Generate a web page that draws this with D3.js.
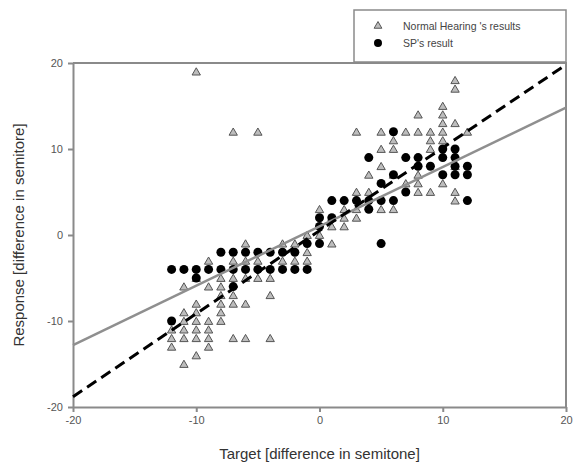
<!DOCTYPE html>
<html>
<head>
  <meta charset="utf-8">
  <script src="https://d3js.org/d3.v7.min.js"></script>
  <style>
  body { margin: 0; background: #fff; }
  .axis text { font-family: "Liberation Sans", Arial, sans-serif; font-size: 11px; fill: #555; }
  .axis path, .axis line { stroke: #8a8a8a; stroke-width: 2px; }
  .title { font-family: "Liberation Sans", Arial, sans-serif; font-size: 15px; fill: #333; }
  .legend text { font-family: "Liberation Sans", Arial, sans-serif; font-size: 10.5px; fill: #444; }
  </style>
</head>
<body>
<script>
// Normal hearing listeners: [target, response]
var nhResults = [
  [-10,19], [-7,12], [-5,12],
  [-12,-11], [-12,-12], [-12,-13],
  [-11,-6], [-11,-9], [-11,-10], [-11,-11], [-11,-12], [-11,-15],
  [-10,-5], [-10,-8], [-10,-9], [-10,-10], [-10,-11], [-10,-12], [-10,-14],
  [-9,-3], [-9,-6], [-9,-10], [-9,-11], [-9,-12], [-9,-13],
  [-8,-5], [-8,-6], [-8,-7], [-8,-8], [-8,-9], [-8,-10],
  [-7,-3], [-7,-5], [-7,-7], [-7,-8], [-7,-12],
  [-6,-1], [-6,-3], [-6,-5], [-6,-8], [-6,-12],
  [-5,-3], [-5,-5],
  [-4,-5], [-4,-7], [-4,-12],
  [-3,-3], [-3,-1], [-2,-3], [-2,-1],
  [-1,-3], [-1,-2], [-1,0],
  [0,0], [0,3],
  [1,-1], [1,1], [1,2],
  [2,1], [2,2], [2,3],
  [3,2], [3,3], [3,5], [3,12],
  [4,5], [4,7],
  [5,3], [5,8], [5,10], [5,12],
  [6,3], [6,7], [6,10], [6,11],
  [7,12], [7,6],
  [8,5], [8,6], [8,7], [8,12], [8,14],
  [9,5], [9,10], [9,11], [9,12],
  [10,6], [10,11], [10,12], [10,13], [10,14], [10,15],
  [11,4], [11,5], [11,8], [11,13], [11,17], [11,18],
  [12,12]
];

// SP's results: [target, response]
var spResults = [
  [-12,-10], [-12,-4], [-11,-4], [-10,-4], [-10,-5], [-9,-4],
  [-8,-4], [-8,-2], [-7,-4], [-7,-2], [-7,-6], [-6,-4], [-6,-2],
  [-5,-4], [-5,-2], [-4,-4], [-4,-2], [-3,-4], [-3,-2], [-2,-4], [-2,-2],
  [-1,-4], [-1,-1], [0,-1], [0,1], [0,2],
  [1,2], [1,4], [2,4], [3,4], [4,4], [4,3], [4,9],
  [5,4], [5,6], [5,-1], [6,4], [6,7], [6,12],
  [7,5], [7,9], [8,9], [8,8], [9,8],
  [10,10], [10,9], [10,7], [11,10], [11,9], [11,8], [11,7],
  [12,8], [12,7], [12,4]
];

// regression lines, end points at x = -20 and x = 20
var spFit = [[-20,-18.8], [20,19.8]];
var nhFit = [[-20,-12.8], [20,14.8]];

var xTicks = [-20, -10, 0, 10, 20];
var yTicks = [-20, -10, 0, 10, 20];
var legendLabels = ["Normal Hearing 's results", "SP's result"];

var W = 573, H = 475;
var pLeft = 73, pRight = 566, pTop = 63, pBottom = 407;

var svg = d3.select("body").append("svg")
  .attr("width", W)
  .attr("height", H);

var x = d3.scaleLinear().domain([-20, 20]).range([pLeft, pRight]);
var y = d3.scaleLinear().domain([-20, 20]).range([pBottom, pTop]);

// frame top and right
svg.append("path")
  .attr("d", "M" + pLeft + "," + pTop + "H" + pRight + "V" + pBottom)
  .attr("fill", "none")
  .attr("stroke", "#8a8a8a")
  .attr("stroke-width", 2);

var fmt = function(d) { return String(d); }; // plain hyphen like the original

svg.append("g")
  .attr("class", "axis")
  .attr("transform", "translate(0," + pBottom + ")")
  .call(d3.axisBottom(x).tickValues(xTicks).tickFormat(fmt).tickSize(5).tickPadding(4).tickSizeOuter(0));

svg.append("g")
  .attr("class", "axis")
  .attr("transform", "translate(" + pLeft + ",0)")
  .call(d3.axisLeft(y).tickValues(yTicks).tickFormat(fmt).tickSize(5).tickPadding(5).tickSizeOuter(0));

// triangles
var tri = d3.symbol().type(d3.symbolTriangle).size(30);
svg.append("g").selectAll("path")
  .data(nhResults)
  .enter().append("path")
  .attr("d", tri)
  .attr("transform", function(d) { return "translate(" + x(d[0]) + "," + (y(d[1]) + 1) + ")"; })
  .attr("fill", "#bdbdbd")
  .attr("stroke", "#555")
  .attr("stroke-width", 1);

svg.append("g").selectAll("circle")
  .data(spResults)
  .enter().append("circle")
  .attr("cx", function(d) { return x(d[0]); })
  .attr("cy", function(d) { return y(d[1]); })
  .attr("r", 4.5)
  .attr("fill", "#000");

var line = d3.line()
  .x(function(d) { return x(d[0]); })
  .y(function(d) { return y(d[1]); });

svg.append("path")
  .datum(nhFit)
  .attr("d", line)
  .attr("fill", "none")
  .attr("stroke", "#8f8f8f")
  .attr("stroke-width", 2.5);

svg.append("path")
  .datum(spFit)
  .attr("d", line)
  .attr("fill", "none")
  .attr("stroke", "#000")
  .attr("stroke-width", 3)
  .attr("stroke-dasharray", "11,6");

// axis titles
svg.append("text")
  .attr("class", "title")
  .attr("x", (pLeft + pRight) / 2)
  .attr("y", 459)
  .attr("text-anchor", "middle")
  .text("Target [difference in semitone]");

svg.append("text")
  .attr("class", "title")
  .attr("transform", "translate(24," + ((pTop + pBottom) / 2) + ") rotate(-90)")
  .attr("text-anchor", "middle")
  .text("Response [difference in semitore]");

// legend
var legend = svg.append("g").attr("class", "legend");
legend.append("rect")
  .attr("x", 354).attr("y", 10)
  .attr("width", pRight - 354).attr("height", 52)
  .attr("fill", "#fff")
  .attr("stroke", "#8a8a8a")
  .attr("stroke-width", 1.5);

var items = legend.selectAll("g.item")
  .data(legendLabels)
  .enter().append("g")
  .attr("class", "item")
  .attr("transform", function(d, i) { return "translate(378," + (26 + i * 17) + ")"; });

items.append("path")
  .attr("d", function(d, i) {
    return i == 0 ? d3.symbol().type(d3.symbolTriangle).size(26)() : d3.symbol().type(d3.symbolCircle).size(50)();
  })
  .attr("fill", function(d, i) { return i == 0 ? "#bdbdbd" : "#000"; })
  .attr("stroke", function(d, i) { return i == 0 ? "#555" : "none"; });

items.append("text")
  .attr("x", 25)
  .attr("y", 4)
  .text(function(d) { return d; });
</script>
</body>
</html>
